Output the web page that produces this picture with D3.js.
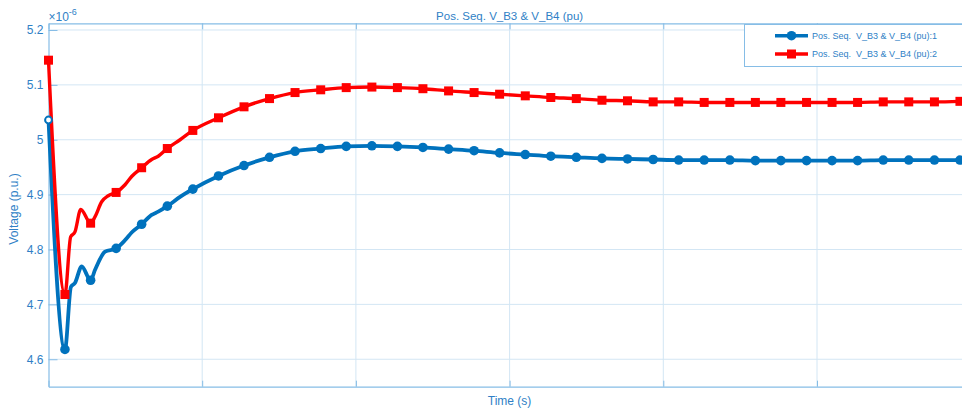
<!DOCTYPE html>
<html>
<head>
<meta charset="utf-8">
<script src="https://cdn.jsdelivr.net/npm/d3@7"></script>
<style>
  html, body { margin: 0; padding: 0; background: #fff; }
  svg { display: block; font-family: "Liberation Sans", Arial, Helvetica, sans-serif; }
</style>
</head>
<body>
<svg id="chart" width="962" height="411"></svg>
<script>
// ---------------- data ----------------
const chartTitle = "Pos. Seq. V_B3 & V_B4 (pu)";
const xLabel = "Time (s)";
const yLabel = "Voltage (p.u.)";
const seriesNames = ["Pos. Seq.  V_B3 & V_B4 (pu):1", "Pos. Seq.  V_B3 & V_B4 (pu):2"];
const yTicks = [4.6, 4.7, 4.8, 4.9, 5.0, 5.1, 5.2];
const yTickLabels = ["4.6", "4.7", "4.8", "4.9", "5", "5.1", "5.2"];
const xTicks = [0, 1, 2, 3, 4, 5, 6];

// marker sample times
const markerTimes = [0, 0.107, 0.274, 0.440, 0.606, 0.773, 0.939, 1.106, 1.272, 1.438, 1.604,
  1.771, 1.937, 2.104, 2.270, 2.436, 2.603, 2.769, 2.935, 3.102, 3.268, 3.434, 3.601,
  3.767, 3.934, 4.100, 4.266, 4.433, 4.599, 4.765, 4.932, 5.098, 5.264, 5.431, 5.597,
  5.764, 5.930];
const blueMarkers = [5.036, 4.618, 4.744, 4.802, 4.846, 4.879, 4.910, 4.934, 4.953, 4.968, 4.979,
  4.984, 4.988, 4.989, 4.988, 4.986, 4.983, 4.980, 4.976, 4.973, 4.970, 4.968, 4.966,
  4.965, 4.964, 4.963, 4.963, 4.963, 4.962, 4.962, 4.962, 4.962, 4.962, 4.963, 4.963,
  4.963, 4.963];
const redMarkers = [5.145, 4.718, 4.848, 4.904, 4.949, 4.984, 5.017, 5.040, 5.060, 5.075, 5.086,
  5.091, 5.095, 5.096, 5.095, 5.093, 5.089, 5.086, 5.083, 5.080, 5.077, 5.075, 5.072,
  5.071, 5.069, 5.069, 5.068, 5.068, 5.068, 5.068, 5.068, 5.068, 5.068, 5.069, 5.069,
  5.069, 5.070];

// extra intermediate line samples (oscillations between markers)
const blueWiggleTimes = [0.146, 0.172, 0.216, 0.303, 0.368, 0.498, 0.541, 0.671, 0.714, 0.856];
const blueWiggle      = [4.732, 4.739, 4.769, 4.763, 4.796, 4.817, 4.831, 4.863, 4.869, 4.896];
const redWiggleTimes  = [0.144, 0.172, 0.210, 0.303, 0.346, 0.389, 0.498, 0.541, 0.671, 0.714, 0.856];
const redWiggle       = [4.823, 4.832, 4.873, 4.860, 4.887, 4.898, 4.918, 4.933, 4.964, 4.970, 5.000];

// ---------------- layout / style ----------------
const plot = { left: 48.5, right: 970.7, top: 23.3, bottom: 386.7 };
const textColor = "#2f7fc6";
const axisColor = "#86bde6";
const gridColor = "#d3e6f4";
const blue = "#0072BD", red = "#FF0000";

const svg = d3.select("#chart");
const x = d3.scaleLinear().domain([0, 6]).range([plot.left, plot.right]);
const y = d3.scaleLinear().domain([4.55, 5.2122]).range([plot.bottom, plot.top]);

// grid
const g = svg.append("g");
g.selectAll("line.gy").data(yTicks).join("line")
  .attr("x1", plot.left).attr("x2", plot.right)
  .attr("y1", d => y(d)).attr("y2", d => y(d))
  .attr("stroke", gridColor).attr("stroke-width", 1);
g.selectAll("line.gx").data(xTicks.slice(1)).join("line")
  .attr("x1", d => x(d)).attr("x2", d => x(d))
  .attr("y1", plot.top).attr("y2", plot.bottom)
  .attr("stroke", gridColor).attr("stroke-width", 1);

// axes (ticks inward)
const yAxis = d3.axisLeft(y).tickValues(yTicks)
  .tickFormat((d, i) => yTickLabels[i]).tickSizeInner(-9).tickSizeOuter(0).tickPadding(5);
const yg = svg.append("g").attr("transform", `translate(${plot.left},0)`).call(yAxis);
yg.select(".domain").attr("stroke", axisColor).attr("stroke-width", 1.2);
yg.selectAll(".tick line").attr("stroke", axisColor);
yg.selectAll(".tick text").attr("fill", textColor).attr("font-size", 12)
  .attr("font-family", "Liberation Sans, Arial, sans-serif");

const xAxis = d3.axisBottom(x).tickValues(xTicks).tickFormat("").tickSizeInner(-6).tickSizeOuter(0);
const xg = svg.append("g").attr("transform", `translate(0,${plot.bottom})`).call(xAxis);
xg.select(".domain").attr("stroke", axisColor).attr("stroke-width", 1.2);
xg.selectAll(".tick line").attr("stroke", axisColor);

const xTop = d3.axisTop(x).tickValues(xTicks).tickFormat("").tickSizeInner(-6).tickSizeOuter(0);
const xtg = svg.append("g").attr("transform", `translate(0,${plot.top})`).call(xTop);
xtg.select(".domain").attr("stroke", axisColor).attr("stroke-width", 1.2);
xtg.selectAll(".tick line").attr("stroke", axisColor);

// exponent label
const expo = svg.append("text").attr("x", plot.left).attr("y", 20.5)
  .attr("fill", textColor).attr("font-size", 12);
expo.append("tspan").text("\u00d710");
expo.append("tspan").attr("dy", -6).attr("font-size", 9).text("-6");

// title and axis labels
svg.append("text").attr("x", x(3)).attr("y", 19.5).attr("text-anchor", "middle")
  .attr("fill", textColor).attr("font-size", 11.5).text(chartTitle);
svg.append("text").attr("x", x(3)).attr("y", 405).attr("text-anchor", "middle")
  .attr("fill", textColor).attr("font-size", 12).text(xLabel);
svg.append("text").attr("transform", `translate(18,${(plot.top + plot.bottom) / 2 + 4}) rotate(-90)`)
  .attr("text-anchor", "middle").attr("fill", textColor).attr("font-size", 12).text(yLabel);

// series
function merged(times, vals, wt, wv) {
  const pts = times.map((t, i) => ({ t, v: vals[i] }))
    .concat(wt.map((t, i) => ({ t, v: wv[i] })));
  return pts.sort((a, b) => a.t - b.t);
}
const blueLine = merged(markerTimes, blueMarkers, blueWiggleTimes, blueWiggle);
const redLine = merged(markerTimes, redMarkers, redWiggleTimes, redWiggle);
const line = d3.line().x(d => x(d.t)).y(d => y(d.v)).curve(d3.curveMonotoneX);

svg.append("path").datum(blueLine).attr("d", line)
  .attr("fill", "none").attr("stroke", blue).attr("stroke-width", 3.8).attr("stroke-linejoin", "round");
svg.append("path").datum(redLine).attr("d", line)
  .attr("fill", "none").attr("stroke", red).attr("stroke-width", 3.4).attr("stroke-linejoin", "round");

const mb = markerTimes.map((t, i) => ({ t, v: blueMarkers[i], i }));
svg.append("g").selectAll("circle").data(mb).join("circle")
  .attr("cx", d => x(d.t)).attr("cy", d => y(d.v))
  .attr("r", d => d.i === 0 ? 3.4 : 4.8)
  .attr("fill", d => d.i === 0 ? "#fff" : blue)
  .attr("stroke", blue).attr("stroke-width", d => d.i === 0 ? 2 : 0);

const mr = markerTimes.map((t, i) => ({ t, v: redMarkers[i], i }));
const sq = 9;
svg.append("g").selectAll("rect").data(mr).join("rect")
  .attr("x", d => x(d.t) - sq / 2).attr("y", d => y(d.v) - sq / 2)
  .attr("width", sq).attr("height", sq).attr("fill", red);

// legend
const lg = svg.append("g");
lg.append("rect").attr("x", 744.5).attr("y", 24.5).attr("width", 240).attr("height", 42)
  .attr("fill", "#fff").attr("stroke", axisColor).attr("stroke-width", 1);
const legendRows = [
  { name: seriesNames[0], color: blue, shape: "circle", yy: 35.7 },
  { name: seriesNames[1], color: red, shape: "square", yy: 54 }
];
legendRows.forEach(r => {
  lg.append("line").attr("x1", 775).attr("x2", 808).attr("y1", r.yy).attr("y2", r.yy)
    .attr("stroke", r.color).attr("stroke-width", 3.6);
  if (r.shape === "circle") {
    lg.append("circle").attr("cx", 791.5).attr("cy", r.yy).attr("r", 4.8).attr("fill", r.color);
  } else {
    lg.append("rect").attr("x", 791.5 - sq / 2).attr("y", r.yy - sq / 2)
      .attr("width", sq).attr("height", sq).attr("fill", r.color);
  }
  lg.append("text").attr("x", 812).attr("y", r.yy + 3.3).attr("fill", textColor)
    .attr("font-size", 9).attr("xml:space", "preserve").style("white-space", "pre").text(r.name);
});
</script>
</body>
</html>
